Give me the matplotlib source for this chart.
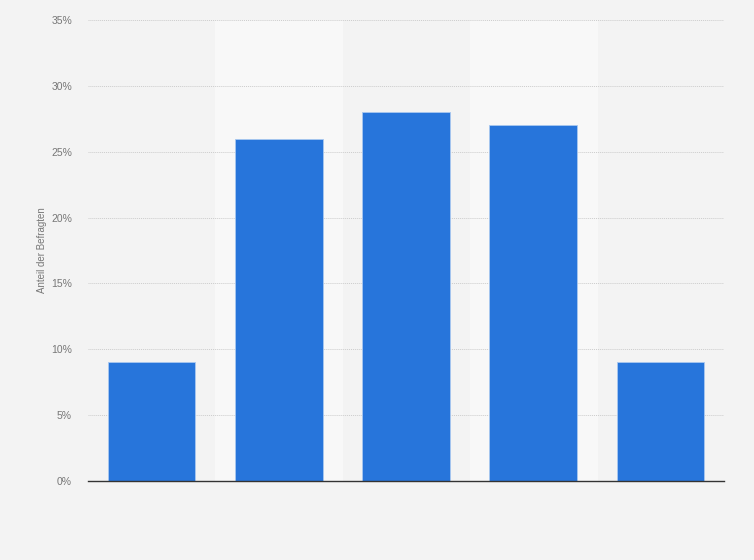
import matplotlib.pyplot as plt
import numpy as np

plt.rcParams['font.family'] = ['Liberation Sans', 'DejaVu Sans']

# values (percent)
categories = ['1', '2', '3', '4', '5']
shares = [9, 26, 28, 27, 9]
yticks = [0, 5, 10, 15, 20, 25, 30, 35]

fig = plt.figure(figsize=(7.54, 5.6), dpi=100)
fig.patch.set_facecolor('#f3f3f3')
ax = fig.add_axes([88 / 754, 1 - 481 / 560, 636 / 754, 461 / 560])
ax.set_facecolor('#f3f3f3')

x = np.arange(len(categories))
# alternating lighter column bands
for i in x:
    if i % 2 == 1:
        ax.axvspan(i - 0.5, i + 0.5, color='#f8f8f8', zorder=0)

ax.bar(x, shares, width=0.69, color='#2775db', edgecolor='#a9c8f0', linewidth=0.6, zorder=3)

ax.set_xlim(-0.5, len(categories) - 0.5)
ax.set_ylim(0, 35)
ax.set_yticks(yticks)
ax.set_yticklabels([f'{t}%' for t in yticks], fontsize=7.5, color='#777777')
ax.set_xticks([])
ax.tick_params(axis='y', length=0, pad=11.5)
ax.yaxis.grid(True, linestyle=(0, (1, 1)), color='#cccccc', linewidth=0.7, zorder=1)
ax.set_axisbelow(True)

for s in ['top', 'right', 'left']:
    ax.spines[s].set_visible(False)
ax.spines['bottom'].set_color('#333333')
ax.spines['bottom'].set_linewidth(1.0)
ax.spines['bottom'].set_zorder(4)

ax.set_ylabel('Anteil der Befragten', fontsize=7, color='#777777', labelpad=3)

fig.savefig('out.png', dpi=100, facecolor=fig.get_facecolor())
